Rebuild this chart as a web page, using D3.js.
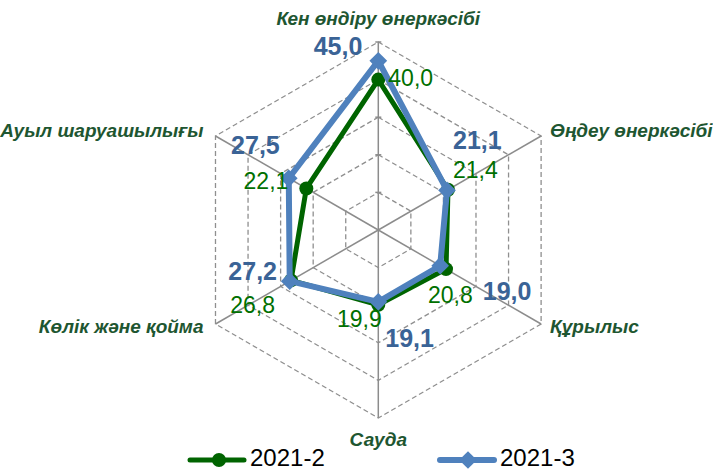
<!DOCTYPE html>
<html>
<head>
<meta charset="utf-8">
<script src="https://cdn.jsdelivr.net/npm/d3@7"></script>
<style>
  body { margin: 0; background: #fff; }
</style>
</head>
<body>
<div id="chart"></div>
<script>
const categories = ["Кен өндіру өнеркәсібі", "Өңдеу өнеркәсібі", "Құрылыс", "Сауда", "Көлік және қойма", "Ауыл шаруашылығы"];
const seriesNames = ["2021-2", "2021-3"];
const values2021_2 = [40.0, 21.4, 20.8, 19.9, 26.8, 22.1];
const values2021_3 = [45.0, 21.1, 19.0, 19.1, 27.2, 27.5];
const ringTicks = [10, 20, 30, 40, 50];

const width = 713, height = 470;
const cx = 378.3, cy = 230, radius = 188;

const svg = d3.select("#chart")
    .append("svg")
    .attr("width", width)
    .attr("height", height);

const r = d3.scaleLinear().domain([0, 50]).range([0, radius]);
const angle = d3.scaleLinear().domain([0, categories.length]).range([0, 2 * Math.PI]);

function pt(i, v) {
    const a = angle(i);
    return [cx + r(v) * Math.sin(a), cy - r(v) * Math.cos(a)];
}

const grid = svg.append("g");

// dashed hexagon rings
ringTicks.forEach(function(t) {
    grid.append("path")
        .attr("d", d3.line()(categories.map((c, i) => pt(i, t))) + "Z")
        .attr("fill", "none")
        .attr("stroke", "#8f8f8f")
        .attr("stroke-width", 1.3)
        .attr("stroke-dasharray", "5,3");
});

// spokes
categories.forEach(function(c, i) {
    const p = pt(i, 50);
    grid.append("line")
        .attr("x1", cx).attr("y1", cy)
        .attr("x2", p[0]).attr("y2", p[1])
        .attr("stroke", "#8c8c8c")
        .attr("stroke-width", 1.5);
});

// tick marks on vertical axis
ringTicks.forEach(function(t) {
    grid.append("line")
        .attr("x1", cx - 3).attr("x2", cx + 3)
        .attr("y1", cy - r(t)).attr("y2", cy - r(t))
        .attr("stroke", "#8c8c8c")
        .attr("stroke-width", 1.5);
});

// category labels
const catPos = [
    { anchor: "middle", dx: 0, dy: -17 },
    { anchor: "start", dx: 9, dy: 1 },
    { anchor: "start", dx: 9, dy: 9 },
    { anchor: "middle", dx: 0, dy: 28 },
    { anchor: "end", dx: -12, dy: 9 },
    { anchor: "end", dx: -12, dy: 1 }
];
svg.append("g").selectAll("text")
    .data(categories)
    .join("text")
    .attr("x", (d, i) => pt(i, 50)[0] + catPos[i].dx)
    .attr("y", (d, i) => pt(i, 50)[1] + catPos[i].dy)
    .attr("text-anchor", (d, i) => catPos[i].anchor)
    .attr("font-family", "'Liberation Sans', Arial, sans-serif")
    .attr("font-size", 19)
    .attr("font-weight", "bold")
    .attr("font-style", "italic")
    .attr("fill", "#1e5631")
    .text(d => d);

const green = "#006400", blue = "#4f81bd";

// series lines
function drawSeries(vals, color, w) {
    svg.append("path")
        .attr("d", d3.line()(vals.map((v, i) => pt(i, v))) + "Z")
        .attr("fill", "none")
        .attr("stroke", color)
        .attr("stroke-width", w)
        .attr("stroke-linejoin", "round");
}
drawSeries(values2021_2, green, 5);
svg.selectAll(".dot")
    .data(values2021_2)
    .join("circle")
    .attr("class", "dot")
    .attr("cx", (v, i) => pt(i, v)[0])
    .attr("cy", (v, i) => pt(i, v)[1])
    .attr("r", 7)
    .attr("fill", green);

drawSeries(values2021_3, blue, 6);
const diamond = d3.symbol().type(d3.symbolDiamond2).size(200);
svg.selectAll(".dia")
    .data(values2021_3)
    .join("path")
    .attr("class", "dia")
    .attr("d", diamond)
    .attr("transform", (v, i) => "translate(" + pt(i, v)[0] + "," + pt(i, v)[1] + ")")
    .attr("fill", blue);

// value labels
const greenPos = [
    { anchor: "start", dx: 10, dy: 6.5 },
    { anchor: "start", dx: 5, dy: -12 },
    { anchor: "start", dx: -18, dy: 33.6 },
    { anchor: "end", dx: 3.4, dy: 22 },
    { anchor: "end", dx: -16, dy: 32.6 },
    { anchor: "end", dx: -18, dy: 0.5 }
];
const bluePos = [
    { anchor: "end", dx: -16, dy: -6 },
    { anchor: "start", dx: 6, dy: -41 },
    { anchor: "start", dx: 42.6, dy: 34.3 },
    { anchor: "start", dx: 7, dy: 45 },
    { anchor: "end", dx: -12.7, dy: -1 },
    { anchor: "end", dx: -9, dy: -24 }
];
const fmt = v => v.toFixed(1).replace(".", ",");

svg.append("g").selectAll("text")
    .data(values2021_2)
    .join("text")
    .attr("x", (v, i) => pt(i, v)[0] + greenPos[i].dx)
    .attr("y", (v, i) => pt(i, v)[1] + greenPos[i].dy)
    .attr("text-anchor", (v, i) => greenPos[i].anchor)
    .attr("font-family", "'Liberation Sans', Arial, sans-serif")
    .attr("font-size", 23)
    .attr("fill", "#007000")
    .text(fmt);

svg.append("g").selectAll("text")
    .data(values2021_3)
    .join("text")
    .attr("x", (v, i) => pt(i, v)[0] + bluePos[i].dx)
    .attr("y", (v, i) => pt(i, v)[1] + bluePos[i].dy)
    .attr("text-anchor", (v, i) => bluePos[i].anchor)
    .attr("font-family", "'Liberation Sans', Arial, sans-serif")
    .attr("font-size", 25)
    .attr("font-weight", "bold")
    .attr("fill", "#3a6396")
    .text(fmt);

// legend
const legend = svg.append("g");
const legendX = [190, 440];
seriesNames.forEach(function(name, k) {
    const x0 = legendX[k], y0 = 460;
    const color = k === 0 ? green : blue;
    legend.append("line")
        .attr("x1", x0).attr("x2", x0 + 54)
        .attr("y1", y0).attr("y2", y0)
        .attr("stroke", color)
        .attr("stroke-width", k === 0 ? 5 : 6)
        .attr("stroke-linecap", "round");
    if (k === 0) {
        legend.append("circle").attr("cx", x0 + 29).attr("cy", y0).attr("r", 7).attr("fill", color);
    } else {
        legend.append("path").attr("d", diamond)
            .attr("transform", "translate(" + (x0 + 28) + "," + y0 + ")")
            .attr("fill", color);
    }
    legend.append("text")
        .attr("x", x0 + 60)
        .attr("y", 466)
        .attr("font-family", "'Liberation Sans', Arial, sans-serif")
        .attr("font-size", 24)
        .attr("fill", "#000")
        .text(name);
});
</script>
</body>
</html>
